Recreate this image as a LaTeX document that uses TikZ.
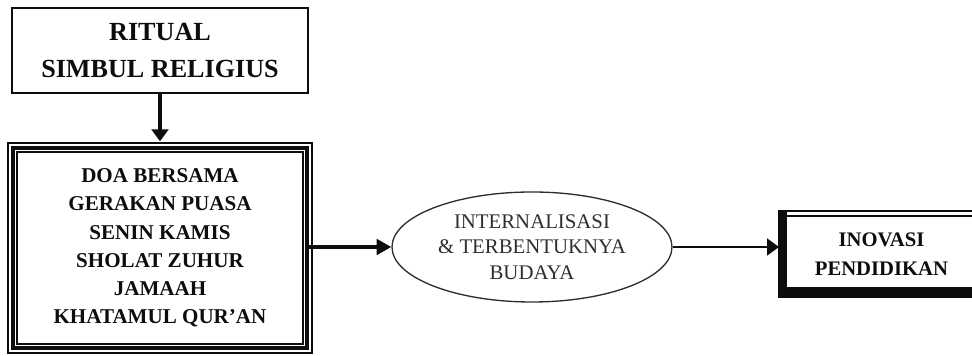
\documentclass[tikz,border=0pt]{standalone}
\usepackage{fontspec}
\setmainfont{Liberation Serif}
\usepackage{xcolor}
\usepackage{tikz}
\usetikzlibrary{arrows.meta, calc, positioning, shapes.geometric}
\definecolor{Ink}{gray}{0.05}
\definecolor{Grey}{gray}{0.18}

\begin{document}
\begin{tikzpicture}[x=0.75pt,y=0.75pt]
\tikzset{
    mybox/.style={draw=Ink, outer sep=0pt, inner sep=0pt, align=center},
    mytext/.style={font=\fontsize{15.8}{21.2}\selectfont\bfseries, text=Ink},
    myarrow/.style={draw=Ink, -{Triangle[length=9pt,width=12.5pt]}}
}
  \useasboundingbox (0,0) rectangle (972,356);
  \clip (0,0) rectangle (972,356);

  % boxes
  \node[mybox, line width=1.1pt, minimum width=222pt, minimum height=63.75pt,
        font=\fontsize{19.6}{27.7}\selectfont\bfseries, text=Ink]
        (ritual) at (160,305.5) {RITUAL\\SIMBUL RELIGIUS};

  \node[mybox, mytext, line width=3.6pt, minimum width=220.5pt, minimum height=150pt]
        (kegiatan) at (160,108)
        {DOA BERSAMA\\GERAKAN PUASA\\SENIN KAMIS\\SHOLAT ZUHUR\\JAMAAH\\KHATAMUL QUR'AN};
  \draw[Ink, line width=1.3pt] ([shift={(-5,5)}]kegiatan.north west) rectangle ([shift={(5,-5)}]kegiatan.south east);
  \draw[Ink, line width=1pt] ([shift={(4,-4)}]kegiatan.north west) rectangle ([shift={(-4,4)}]kegiatan.south east);

  \node[ellipse, draw=Grey, line width=1pt, minimum width=210pt, minimum height=82.5pt,
        inner sep=0pt, align=center, text=Grey, font=\fontsize{15.6}{19}\selectfont]
        (internal) at (532,109) {INTERNALISASI\\\& TERBENTUKNYA\\BUDAYA};

  \node[mybox, mytext, line width=1.4pt, minimum width=153.75pt, minimum height=64.5pt,
        font=\fontsize{15.5}{21.75}\selectfont\bfseries]
        (inovasi) at (881.5,102) {INOVASI\\PENDIDIKAN};
  \fill[Ink] (inovasi.south west) rectangle ([shift={(8,0)}]inovasi.north west);
  \fill[Ink] (inovasi.south west) rectangle ([shift={(0,10)}]inovasi.south east);
  \draw[Ink, line width=1.1pt] ([shift={(8,-5)}]inovasi.north west) -- ([shift={(-5,-5)}]inovasi.north east)
        -- ([shift={(-5,10)}]inovasi.south east);

  % connectors
  \draw[myarrow, line width=3pt] (ritual.south) -- ([yshift=5pt]kegiatan.north);
  \draw[myarrow, line width=3.6pt, -{Triangle[length=11pt,width=11.5pt]}]
        (internal.west -| kegiatan.east) -- (internal.west);
  \draw[myarrow, line width=2.2pt] (internal.east) -- (internal.east -| inovasi.west);
\end{tikzpicture}
\end{document}
